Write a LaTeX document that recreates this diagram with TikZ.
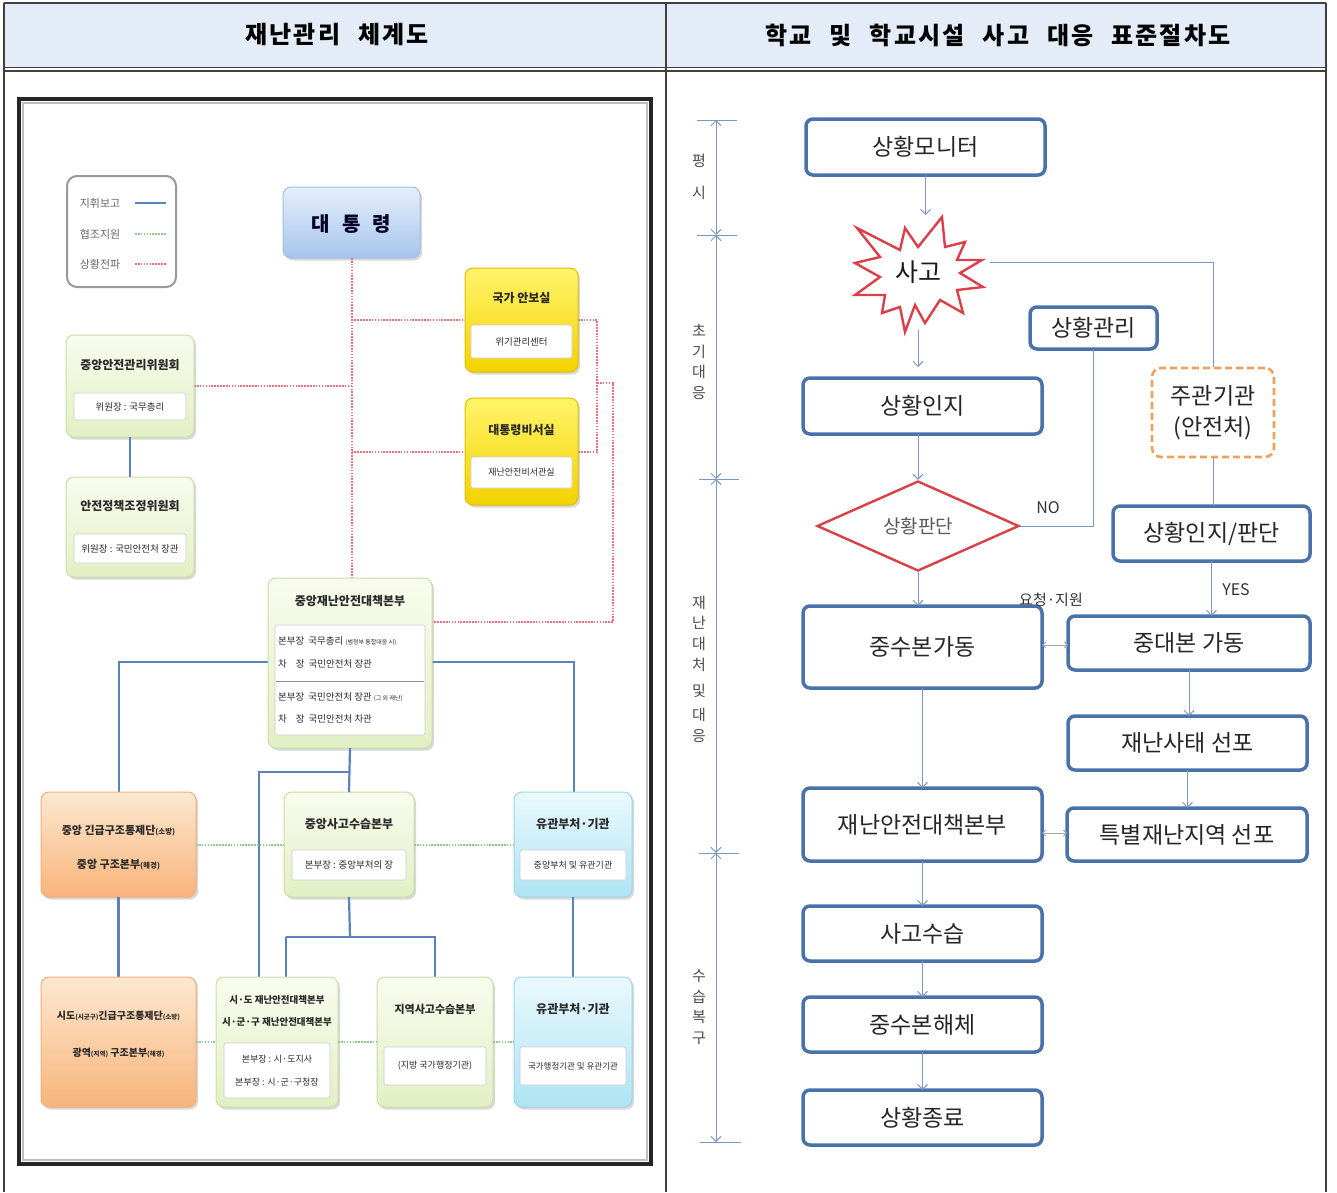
\documentclass[tikz,border=0pt]{standalone}
\usepackage{fontspec}
\setmainfont{Noto Sans CJK KR}
\usetikzlibrary{arrows.meta,shapes.geometric,shadows}
\definecolor{boxblue}{HTML}{4A72AA}
\definecolor{linkblue}{HTML}{7C98BE}
\definecolor{redd}{HTML}{D9404A}
\definecolor{orangedash}{HTML}{F0A15A}
\definecolor{hdr}{HTML}{E4ECF7}
\definecolor{tbl}{HTML}{404040}
\definecolor{lblue}{HTML}{5B82BF}
\definecolor{lred}{HTML}{E8707E}
\definecolor{lgreen}{HTML}{8ACB8A}
\definecolor{yelT}{HTML}{FFF46A}
\definecolor{yelB}{HTML}{F2D200}
\definecolor{yelD}{HTML}{E0C000}
\definecolor{grnT}{HTML}{F8FCEE}
\definecolor{grnB}{HTML}{E2F0C4}
\definecolor{grnD}{HTML}{C8DFA6}
\definecolor{orgT}{HTML}{FDE8D0}
\definecolor{orgB}{HTML}{F8B47A}
\definecolor{orgD}{HTML}{F0B07A}
\definecolor{cyaT}{HTML}{EAF9FD}
\definecolor{cyaB}{HTML}{AEE4F4}
\definecolor{cyaD}{HTML}{9CD6E8}
\definecolor{preT}{HTML}{E6EFFB}
\definecolor{preB}{HTML}{A6C5EC}
\definecolor{preD}{HTML}{A3BEE2}
\definecolor{ltxt}{HTML}{2A2A2A}
\newcommand\hdsp{\hspace{18pt}}
\tikzset{
  rbox/.style={draw=boxblue, line width=3.5pt, rounded corners=7pt, fill=white,
    inner sep=0pt, outer sep=0pt, font=\fontsize{23}{26}\selectfont, text=black!85},
  conn/.style={draw=linkblue, line width=1pt},
  arr/.style={conn, -{Straight Barb[length=5pt,width=10pt]}},
  darr/.style={draw=gray!70, line width=0.9pt, {Straight Barb[length=3pt,width=6pt]}-{Straight Barb[length=3pt,width=6pt]}},
  tlarr/.style={draw=linkblue, line width=1pt, {Straight Barb[length=5pt,width=10pt]}-{Straight Barb[length=5pt,width=10pt]}},
  tick/.style={draw=linkblue, line width=1pt},
  tlab/.style={align=center, font=\fontsize{15}{20.7}\selectfont, text=black!70, inner sep=0pt},
  smlab/.style={font=\fontsize{15}{18}\selectfont, text=black!80, inner sep=0pt},
  hdrtxt/.style={font=\fontsize{24}{27}\selectfont\bfseries\addfontfeature{LetterSpace=9}, text=black},
  lbox/.style={rounded corners=8pt, line width=1pt, inner sep=0pt, outer sep=0pt,
    drop shadow={opacity=0.3, shadow xshift=2pt, shadow yshift=-2.5pt}},
  ybox/.style={lbox, draw=yelD, top color=yelT, bottom color=yelB},
  gbox/.style={lbox, draw=grnD, top color=grnT, bottom color=grnB},
  obox/.style={lbox, draw=orgD, top color=orgT, bottom color=orgB},
  cbox/.style={lbox, draw=cyaD, top color=cyaT, bottom color=cyaB},
  pbox/.style={lbox, draw=preD, top color=preT, bottom color=preB},
  inbox/.style={draw=black!20, fill=white, rounded corners=2pt, inner sep=0pt, line width=0.6pt,
    font=\fontsize{9.5}{12}\selectfont, text=ltxt, align=center},
  ltitle/.style={font=\fontsize{12}{15}\selectfont\bfseries, text=ltxt, inner sep=0pt, align=center},
  ltext/.style={font=\fontsize{9.5}{12}\selectfont, text=ltxt, inner sep=0pt, align=left},
  chain/.style={draw=lblue, line width=2.2pt},
  alert/.style={draw=lred, line width=2pt, dash pattern=on 1.6pt off 1.3pt},
  coop/.style={draw=lgreen, line width=2pt, dash pattern=on 1.6pt off 1.3pt},
}
\begin{document}
\begin{tikzpicture}[x=1pt,y=-1pt]
\useasboundingbox (0,0) rectangle (1337,1192);
\fill[white] (0,0) rectangle (1337,1192);
% ---------------- table ----------------
\fill[hdr] (4,3) rectangle (1326,67.5);
\draw[tbl, line width=1.1pt] (4,3) -- (1326,3);
\draw[tbl, line width=1.1pt] (4,3) -- (4,1192);
\draw[tbl, line width=1.1pt] (1326,3) -- (1326,1192);
\draw[tbl, line width=1.1pt] (666,3) -- (666,1192);
\draw[tbl, line width=1.1pt] (4,67.5) -- (1326,67.5);
\draw[tbl, line width=1.1pt] (4,71) -- (1326,71);
\node[hdrtxt] (h1) at (337,35) {재난관리\hdsp 체계도};
\node[hdrtxt] (h2) at (998,35) {학교\hdsp 및\hdsp 학교시설\hdsp 사고\hdsp 대응\hdsp 표준절차도};
% ---------------- left frame ----------------
\draw[line width=1.5pt, black!25] (23,103) rectangle (647,1160);
\draw[line width=4pt, black!85] (19,99) rectangle (651,1164);
% ---------------- left connectors (helpers) ----------------
\coordinate (jL) at (119,662);
\coordinate (jR) at (574,662);
\coordinate (k1) at (259,772);
\coordinate (m1) at (350,937);
\coordinate (m2) at (286,937);
\coordinate (r1) at (597,320);
\coordinate (r2) at (597,452);
\coordinate (r3) at (597,383);
\coordinate (r4) at (613,383);
\coordinate (r5) at (613,622);
% ---------------- legend ----------------
\node[draw=black!40, line width=2pt, rounded corners=10pt, fill=white, minimum width=109pt, minimum height=111pt] (leg) at (121.5,231.5) {};
\node[ltext, text=black!60, font=\fontsize{11}{12}\selectfont] (lg1) at (100,203) {지휘보고};
\node[ltext, text=black!60, font=\fontsize{11}{12}\selectfont] (lg2) at (100,234) {협조지원};
\node[ltext, text=black!60, font=\fontsize{11}{12}\selectfont] (lg3) at (100,264) {상황전파};
\coordinate (lgA) at (135,203); \coordinate (lgB) at (166,203);
\coordinate (lgC) at (135,234); \coordinate (lgD) at (166,234);
\coordinate (lgE) at (135,264); \coordinate (lgF) at (166,264);
\draw[chain, line width=1.8pt] (lgA) -- (lgB);
\draw[coop, line width=1.4pt] (lgC) -- (lgD);
\draw[alert, line width=1.4pt] (lgE) -- (lgF);
% ---------------- left boxes ----------------
\node[pbox, minimum width=137pt, minimum height=71pt] (pres) at (351.5,222.5) {};
\node[font=\fontsize{20}{22}\selectfont\bfseries, text=black!85!blue] (presT) at (351.5,224) {대\hspace{12pt}통\hspace{12pt}령};

\draw[alert] (pres.south) -- (pres.south |- 0,578);
\draw[alert] (pres.south |- 0,320) -- (465,320);
\draw[alert] (pres.south |- 0,452) -- (465,452);
\draw[alert] (194,386) -- (pres.south |- 0,386);
\draw[alert] (578,320) -- (r1) -- (r2) -- (578,452);
\draw[alert] (r3) -- (r4) -- (r5) -- (432,622);

\node[ybox, minimum width=113pt, minimum height=104pt] (nsa) at (521.5,320) {};
\node[ltitle] (nsaT) at (521.5,298) {국가 안보실};
\node[inbox, minimum width=101pt, minimum height=33pt] (nsaI) at (521.5,341.5) {위기관리센터};

\node[ybox, minimum width=113pt, minimum height=107pt] (sec) at (521.5,451.5) {};
\node[ltitle] (secT) at (521.5,430) {대통령비서실};
\node[inbox, minimum width=101pt, minimum height=31pt, font=\fontsize{9}{11}\selectfont] (secI) at (521.5,472.5) {재난안전비서관실};

\node[gbox, minimum width=128pt, minimum height=102pt] (ccsm) at (130,386) {};
\node[ltitle] (ccsmT) at (130,365) {중앙안전관리위원회};
\node[inbox, minimum width=112pt, minimum height=27pt] (ccsmI) at (130,406.5) {위원장 : 국무총리};

\node[gbox, minimum width=128pt, minimum height=100pt] (spc) at (130,527) {};
\node[ltitle] (spcT) at (130,506) {안전정책조정위원회};
\node[inbox, minimum width=112pt, minimum height=29pt] (spcI) at (130,548.5) {위원장 : 국민안전처 장관};
\draw[chain] (ccsm.south) -- (spc.north);

\draw[chain] (jL -| 268,0) -- (jL) -- (jL |- 0,792);
\draw[chain] (jR -| 432,0) -- (jR) -- (jR |- 0,792);

\node[gbox, minimum width=164pt, minimum height=170pt] (cds) at (350,663) {};
\node[ltitle] (cdsT) at (350,601) {중앙재난안전대책본부};
\node[inbox, minimum width=150pt, minimum height=110pt] (cdsI) at (350,680) {};
\draw[black!45, line width=0.8pt] (276,681) -- (424,681);
\node[ltext, anchor=west] (cds1) at (278,641) {본부장\hspace{4pt}국무총리 {\fontsize{6}{7}\selectfont(범정부 통합대응 시)}};
\node[ltext, anchor=west] (cds2) at (278,664) {차\hspace{9pt}장\hspace{4pt}국민안전처 장관};
\node[ltext, anchor=west] (cds3) at (278,697) {본부장\hspace{4pt}국민안전처 장관 {\fontsize{6}{7}\selectfont(그 외 재난)}};
\node[ltext, anchor=west] (cds4) at (278,719) {차\hspace{9pt}장\hspace{4pt}국민안전처 차관};

\node[obox, minimum width=155pt, minimum height=105pt] (cer) at (118.5,844.5) {};
\node[ltitle, font=\fontsize{11}{14}\selectfont\bfseries] (cerT) at (118.5,848) {중앙 긴급구조통제단{\fontsize{7.5}{8}\selectfont(소방)}\\[20pt]중앙 구조본부{\fontsize{7.5}{8}\selectfont(해경)}};

\node[gbox, minimum width=130pt, minimum height=105pt] (cam) at (349,844.5) {};
\node[ltitle] (camT) at (349,824) {중앙사고수습본부};
\node[inbox, minimum width=114pt, minimum height=30pt] (camI) at (349,865) {본부장 : 중앙부처의 장};

\node[cbox, minimum width=118pt, minimum height=105pt] (rel1) at (573,844.5) {};
\node[ltitle] (rel1T) at (573,824) {유관부처·기관};
\node[inbox, minimum width=106pt, minimum height=30pt, font=\fontsize{9}{11}\selectfont] (rel1I) at (573,865) {중앙부처 및 유관기관};

\draw[chain] (cds.south) -- (cam.north);
\draw[chain] (k1 -| cds.south) -- (k1) -- (k1 |- 0,977);
\draw[chain] (cam.south) -- (m1);
\draw[chain] (m2) -- (435,937) -- (435,977);
\draw[chain] (m2) -- (m2 |- 0,977);
\draw[chain] (cer.south) -- (cer.south |- 0,977);
\draw[chain] (rel1.south) -- (rel1.south |- 0,977);
\draw[coop] (cer.east) -- (cam.west);
\draw[coop] (cam.east) -- (rel1.west);

\node[obox, minimum width=155pt, minimum height=130pt] (ler) at (118.5,1042) {};
\node[ltitle, font=\fontsize{10}{12}\selectfont\bfseries] (lerT) at (118.5,1034) {시도{\fontsize{6.5}{8}\selectfont(시군구)}긴급구조통제단{\fontsize{6.5}{8}\selectfont(소방)}\\[25pt]광역{\fontsize{6.5}{8}\selectfont(지역)} 구조본부{\fontsize{6.5}{8}\selectfont(해경)}};

\node[gbox, minimum width=122pt, minimum height=130pt] (lds) at (277,1042) {};
\node[ltitle, font=\fontsize{9.5}{22}\selectfont\bfseries] (ldsT) at (277,1011) {시·도 재난안전대책본부\\시·군·구 재난안전대책본부};
\node[inbox, minimum width=106pt, minimum height=55pt, font=\fontsize{9}{23}\selectfont] (ldsI) at (277,1070.5) {본부장 : 시·도지사\\본부장 : 시·군·구청장};

\node[gbox, minimum width=116pt, minimum height=130pt] (lam) at (435,1042) {};
\node[ltitle, font=\fontsize{11}{13}\selectfont\bfseries] (lamT) at (435,1009) {지역사고수습본부};
\node[inbox, minimum width=102pt, minimum height=38pt, font=\fontsize{9}{11}\selectfont] (lamI) at (435,1066) {(지방 국가행정기관)};

\node[cbox, minimum width=118pt, minimum height=130pt] (rel2) at (573,1042) {};
\node[ltitle] (rel2T) at (573,1009) {유관부처·기관};
\node[inbox, minimum width=106pt, minimum height=38pt, font=\fontsize{8.5}{10}\selectfont] (rel2I) at (573,1066) {국가행정기관 및 유관기관};

\draw[coop] (ler.east) -- (lds.west);
\draw[coop] (lds.east) -- (lam.west);
\draw[coop] (lam.east) -- (rel2.west);

% ---------------- right: timeline ----------------
\coordinate (t0) at (716,120);
\coordinate (t1) at (716,235);
\coordinate (t2) at (716,479);
\coordinate (t3) at (716,853);
\coordinate (t4) at (716,1142);
\draw[tick] (697,120) -- (737,120);
\draw[tick] (697,235) -- (737,235);
\draw[tick] (699,479) -- (739,479);
\draw[tick] (699,853) -- (739,853);
\draw[tick] (700,1142) -- (741,1142);
\draw[tlarr] (t0) -- (t1);
\draw[tlarr] (t1) -- (t2);
\draw[tlarr] (t2) -- (t3);
\draw[tlarr] (t3) -- (t4);
\node[tlab] (p1) at (699,177) {평\\[12pt]시};
\node[tlab] (p2) at (699,362) {초\\기\\대\\응};
\node[tlab] (p3) at (699,669) {재\\난\\대\\처\\[6pt]및\\[3pt]대\\응};
\node[tlab] (p4) at (699,1007) {수\\습\\복\\구};

% ---------------- right: flow ----------------
\node[rbox, minimum width=239pt, minimum height=56pt] (mon) at (925.5,147) {상황모니터};
\draw[redd, line width=2.4pt, fill=white, line join=miter]
  (857,228) -- (900,250) -- (905,228) -- (918,247) -- (942,217) -- (945,247)
  -- (965,242) -- (957,260) -- (982,260) -- (960,273) -- (983,287) -- (957,290)
  -- (963,313) -- (940,300) -- (925,323) -- (915,305) -- (905,332) -- (900,307)
  -- (882,313) -- (885,295) -- (855,295) -- (880,277) -- (855,263) -- (880,257) -- cycle;
\node[font=\fontsize{25}{28}\selectfont, text=black!90, inner sep=0pt] (acc) at (918,272) {사고};
\coordinate (accT) at (925,215);
\coordinate (accB) at (918,330);
\coordinate (accR) at (990,262);
\node[rbox, minimum width=127pt, minimum height=42pt] (mgmt) at (1093.5,328) {상황관리};
\node[rbox, minimum width=239pt, minimum height=56pt] (insit) at (922.5,406) {상황인지};
\node[draw=orangedash, line width=2.6pt, dash pattern=on 7pt off 4pt, rounded corners=9pt, fill=white,
  minimum width=122pt, minimum height=89pt, inner sep=0pt, align=center,
  font=\fontsize{23}{31}\selectfont, text=black!85] (lead) at (1213,412.5) {주관기관\\(안전처)};
\node[diamond, draw=redd, line width=2.4pt, fill=white, minimum width=202pt, minimum height=90pt,
  inner sep=0pt, font=\fontsize{19}{22}\selectfont, text=black!65] (judge) at (918,526) {상황판단};
\node[rbox, minimum width=197pt, minimum height=55pt] (judge2) at (1211.5,533.5) {상황인지/판단};
\node[rbox, minimum width=239pt, minimum height=82pt] (csh) at (922.5,647) {중수본가동};
\node[rbox, minimum width=242pt, minimum height=54pt] (cdb) at (1189,643) {중대본 가동};
\node[rbox, minimum width=239pt, minimum height=54pt] (decl) at (1187.5,743) {재난사태 선포};
\node[rbox, minimum width=239pt, minimum height=73pt] (dsh) at (922.5,824.5) {재난안전대책본부};
\node[rbox, minimum width=240pt, minimum height=53pt] (spec) at (1187,834.5) {특별재난지역 선포};
\node[rbox, minimum width=239pt, minimum height=55pt] (recov) at (922.5,933.5) {사고수습};
\node[rbox, minimum width=239pt, minimum height=55pt] (dis) at (922.5,1024.5) {중수본해체};
\node[rbox, minimum width=239pt, minimum height=55pt] (fin) at (922.5,1117.5) {상황종료};

\node[smlab, font=\fontsize{16}{18}\selectfont] (noL) at (1048,508) {NO};
\node[smlab, font=\fontsize{16}{18}\selectfont] (yesL) at (1236,590) {YES};
\node[smlab] (reqL) at (1051,600) {요청·지원};

\coordinate (y645) at (0,645);
\coordinate (y833) at (0,833);
\coordinate (y368) at (0,367);
\draw[arr] (mon.south) -- (mon.south |- accT);
\draw[arr] (accB) -- (accB |- y368);
\draw[arr] (judge.north |- insit.south) -- (judge.north);
\draw[arr] (judge.south) -- (judge.south |- csh.north);
\draw[arr] (csh.south) -- (dsh.north);
\draw[arr] (dsh.south) -- (recov.north);
\draw[arr] (recov.south) -- (dis.north);
\draw[arr] (dis.south) -- (fin.north);
\draw[conn] (accR) -- (accR -| lead.north) -- (lead.north);
\draw[conn] (lead.south) -- (lead.south |- judge2.north);
\draw[conn] (mgmt.south) -- (mgmt.south |- judge.east) -- (judge.east);
\draw[arr] (judge2.south) -- (judge2.south |- cdb.north);
\draw[arr] (cdb.south) -- (cdb.south |- decl.north);
\draw[arr] (decl.south) -- (decl.south |- spec.north);
\draw[darr] (csh.east |- y645) -- (cdb.west |- y645);
\draw[darr] (dsh.east |- y833) -- (spec.west |- y833);
\end{tikzpicture}
\end{document}
